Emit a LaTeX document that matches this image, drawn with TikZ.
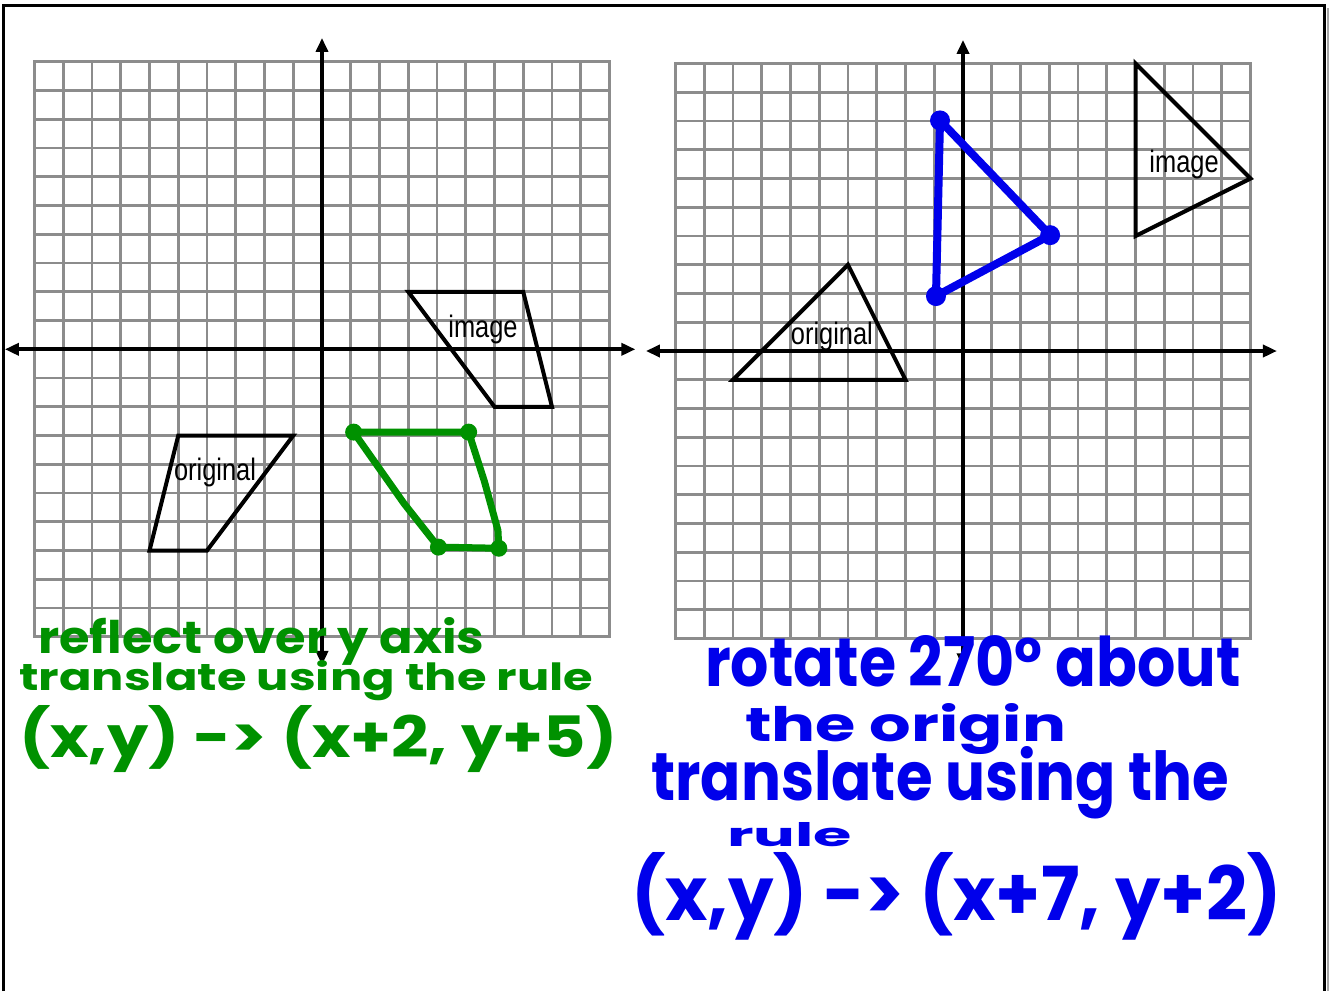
\documentclass[tikz,border=0pt]{standalone}
\usepackage{fontspec}
\setmainfont{Liberation Sans}
\newfontfamily\handfont{Poppins}
\usetikzlibrary{arrows.meta}
\definecolor{gridgray}{RGB}{140,140,140}
\definecolor{pengreen}{RGB}{0,145,0}
\definecolor{penblue}{RGB}{0,0,235}
\newcommand{\hand}[3]{\resizebox{#1}{#2}{\handfont\bfseries #3}}
\tikzset{
  gridline/.style={gridgray, line width=2.8pt, line cap=rect},
  axisline/.style={line width=4pt, {Triangle[length=14pt,width=12pt]}-{Triangle[length=14pt,width=12pt]}},
  figline/.style={line width=4pt, line join=miter},
  figlabel/.style={inner sep=0pt, font=\fontsize{31}{31}\selectfont},
  handtext/.style={inner sep=0pt, anchor=base west},
}
\begin{document}
\begin{tikzpicture}[x=1pt, y=-1pt]
\useasboundingbox (0,0) rectangle (1332,991);
\draw[gray!70, line width=2pt] (1327.5,8) -- (1327.5,991);
\draw[line width=3pt] (3.5,991) -- (3.5,5) -- (1324,5) -- (1324,991);

% left grid: reflect, then translate
\begin{scope}[shift={(322,349.3)}, x=28.75pt, y=28.75pt]
\foreach \i in {-10,...,10} {
  \draw[gridline] (\i,-10) -- (\i,10);
  \draw[gridline] (-10,\i) -- (10,\i);
}
\draw[axisline] (-11.03,0) -- (10.9,0);
\draw[axisline] (0,-10.98) -- (0,10.83);
\draw[figline] (-5,-3) -- (-1,-3) -- (-4,-7) -- (-6,-7) -- cycle;
\draw[figline] (3,2) -- (7,2) -- (8,-2) -- (6,-2) -- cycle;
\node[figlabel] (origL) at (-3.72,-4.3) {\scalebox{0.82}[1]{original}};
\node[figlabel] (imageL) at (5.6,0.7) {\scalebox{0.82}[1]{image}};
\coordinate (g1) at (1.1,-2.88);
\coordinate (g2) at (5.1,-2.88);
\coordinate (g3) at (6.15,-6.92);
\coordinate (g4) at (4.05,-6.88);
\draw[pengreen, line width=7pt, line join=round, line cap=round]
  (g1) -- (g2) -- (5.65,-4.6) -- (6.12,-6.3) -- (g3) -- (g4) -- (2.85,-5.36) -- cycle;
\foreach \p in {g1,g2,g3,g4}
  \fill[pengreen] (\p) circle (8.5pt);
\end{scope}

% right grid: rotate, then translate
\begin{scope}[shift={(963,351)}, x=28.75pt, y=28.75pt]
\foreach \i in {-10,...,10} {
  \draw[gridline] (\i,-10) -- (\i,10);
  \draw[gridline] (-10,\i) -- (10,\i);
}
\draw[axisline] (-11.03,0) -- (10.92,0);
\draw[axisline] (0,-11) -- (0,10.82);
\draw[figline] (-4,3) -- (-8,-1) -- (-2,-1) -- cycle;
\draw[figline] (6,10) -- (10,6) -- (6,4) -- cycle;
\node[figlabel] (origR) at (-4.56,0.5) {\scalebox{0.82}[1]{original}};
\node[figlabel] (imageR) at (7.69,6.5) {\scalebox{0.82}[1]{image}};
\coordinate (b1) at (-0.8,8.02);
\coordinate (b2) at (3.03,4.03);
\coordinate (b3) at (-0.94,1.91);
\draw[penblue, line width=8pt, line join=round] (b1) -- (b2) -- (b3) -- cycle;
\foreach \p in {b1,b2,b3}
  \fill[penblue] (\p) circle (10pt);
\end{scope}

\node[handtext, pengreen] (reflectTxt) at (38,653) {\hand{446pt}{36pt}{reflect over y axis}};
\node[handtext, pengreen] (translateL) at (19,690) {\hand{574pt}{30pt}{translate using the rule}};
\node[handtext, pengreen] (ruleL) at (19,757) {\hand{598pt}{52pt}{(x,y) -> (x+2, y+5)}};
\node[handtext, penblue] (rotateTxt) at (705,686) {\hand{535pt}{51pt}{rotate 270° about}};
\node[handtext, penblue] (originTxt) at (745,741) {\hand{321pt}{38pt}{the origin}};
\node[handtext, penblue] (translateR) at (651,800) {\hand{578pt}{54pt}{translate using the}};
\node[handtext, penblue] (ruleWord) at (727,846) {\hand{125pt}{24pt}{rule}};
\node[handtext, penblue] (ruleR) at (631,920) {\hand{650pt}{68pt}{(x,y) -> (x+7, y+2)}};
\end{tikzpicture}
\end{document}
